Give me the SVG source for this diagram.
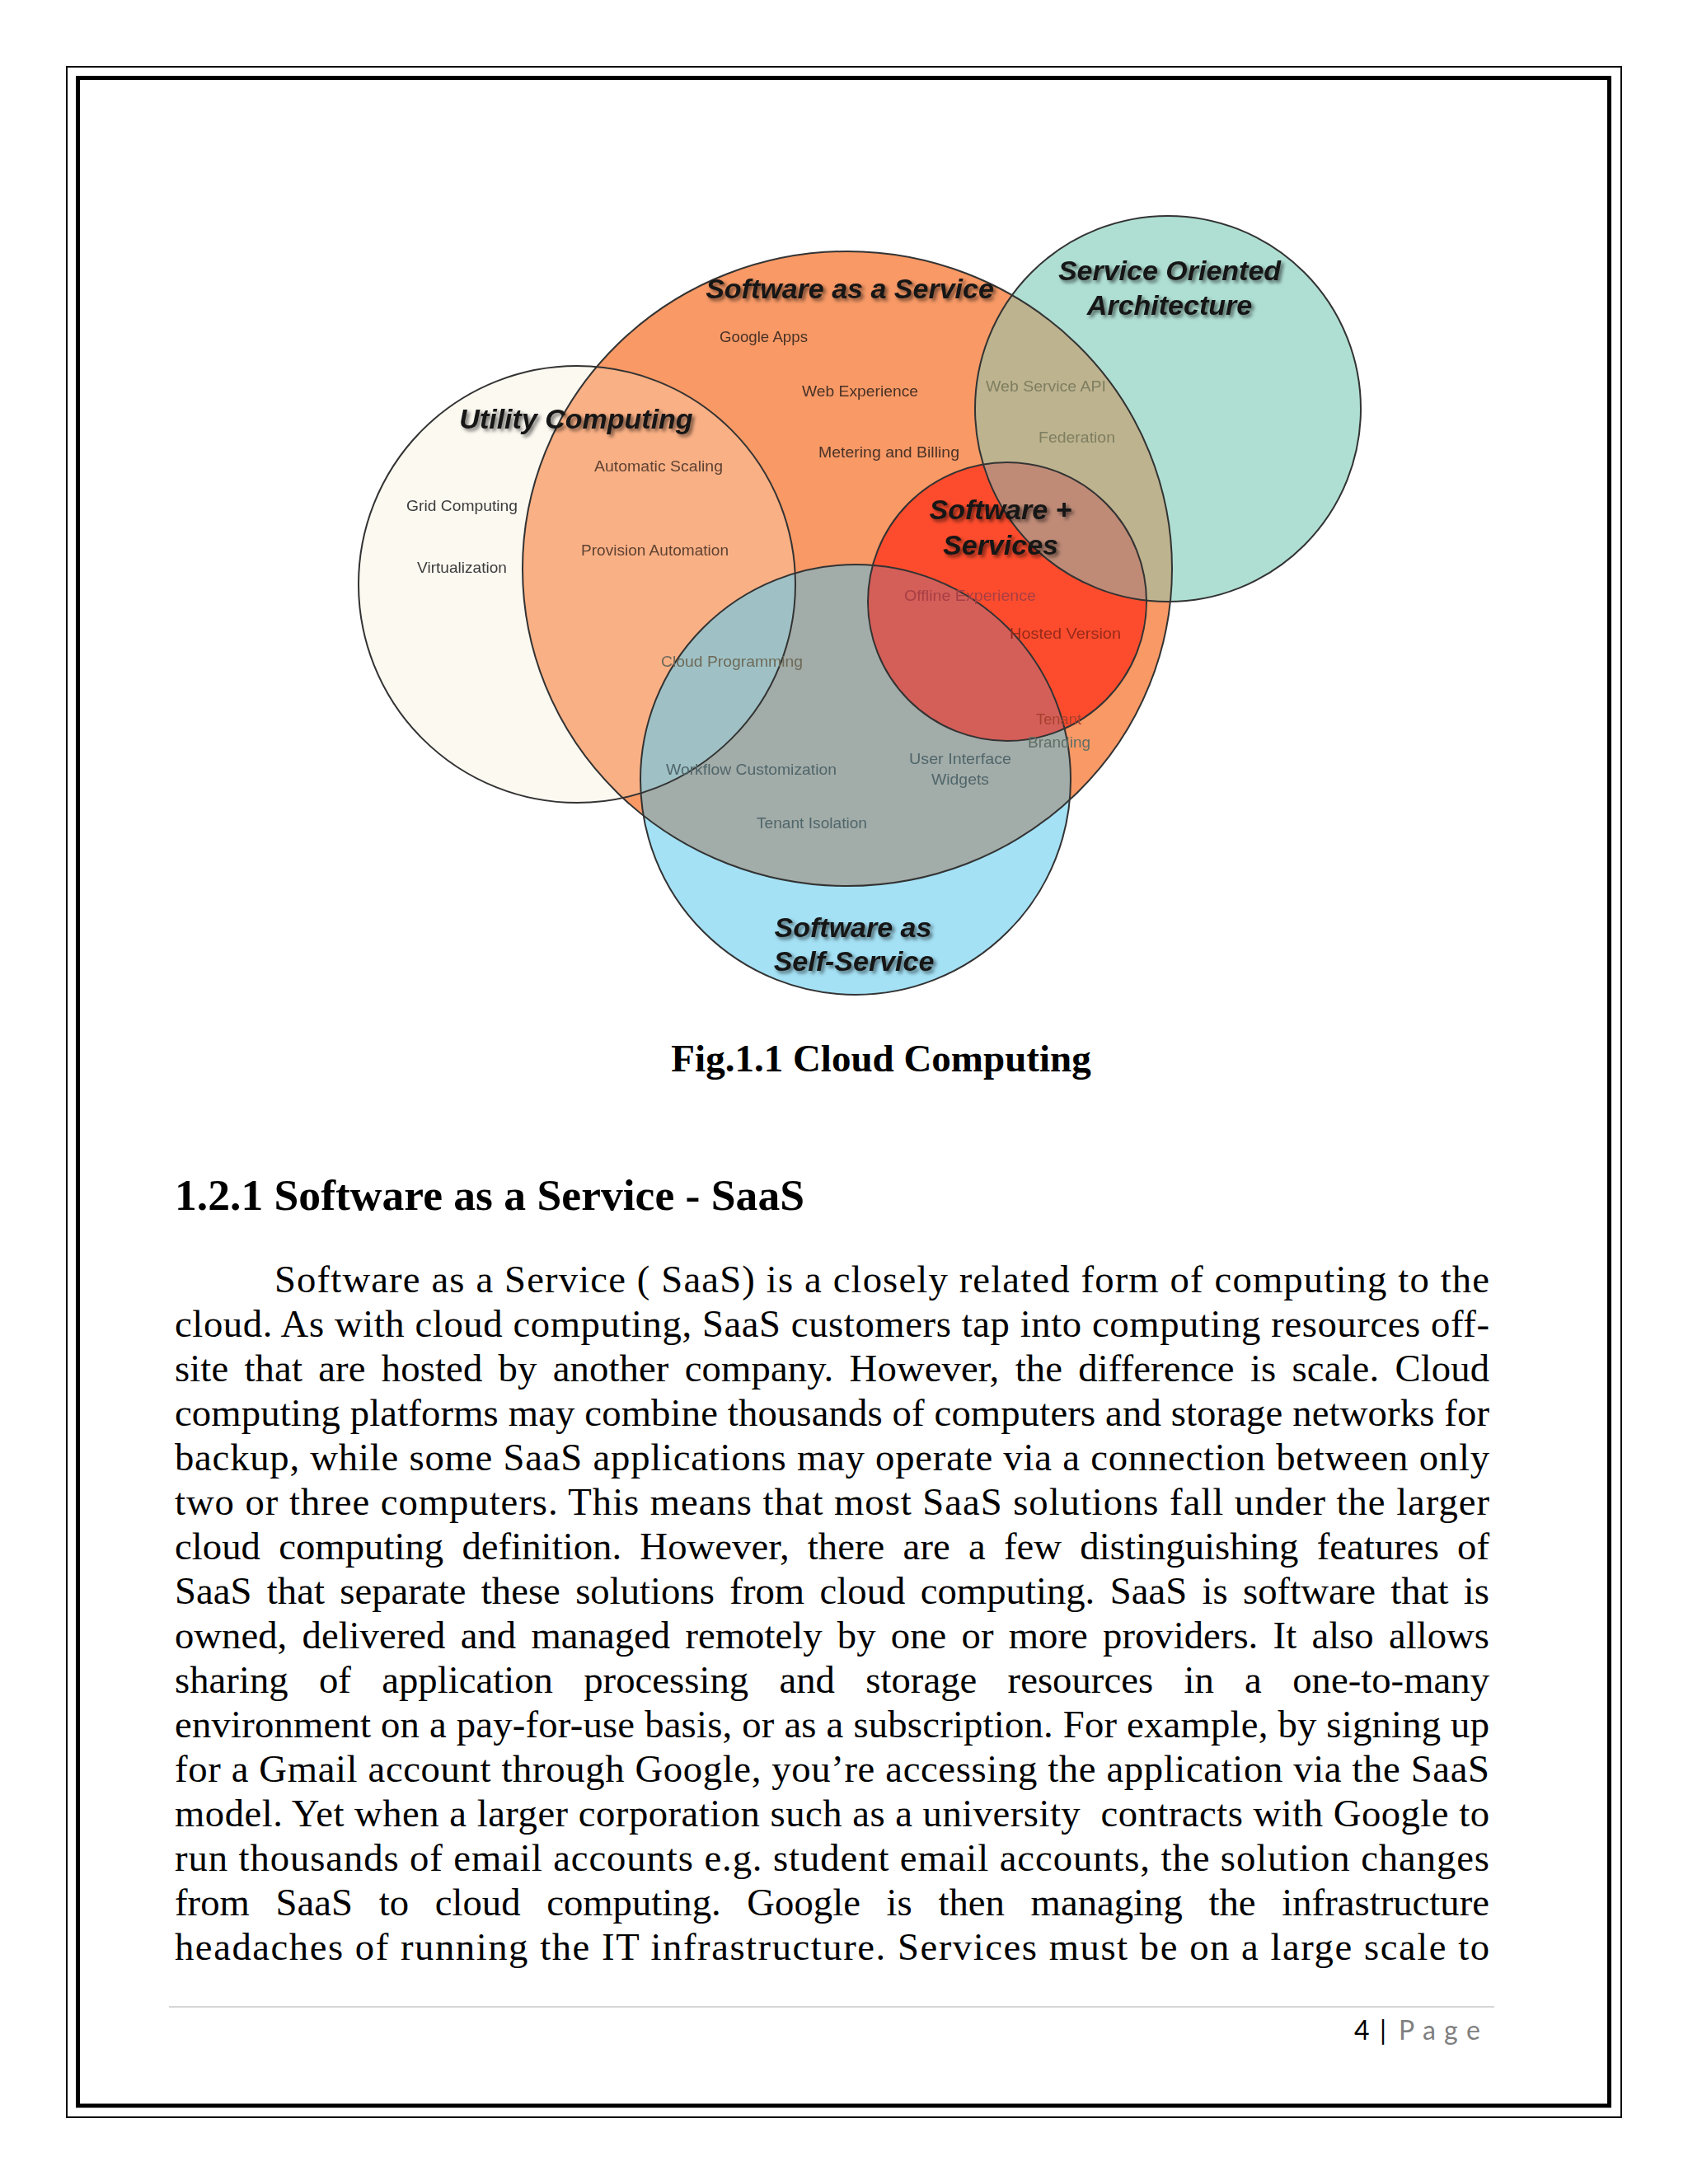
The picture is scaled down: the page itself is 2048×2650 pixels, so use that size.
<svg xmlns="http://www.w3.org/2000/svg" width="2048" height="2650" viewBox="0 0 2048 2650">
<style>
.title{font-family:"Liberation Sans",Arial,sans-serif;font-weight:bold;font-style:italic;font-size:34px;fill:#151515;text-anchor:middle}
.lbl{font-family:"Liberation Sans",Arial,sans-serif;font-size:19px}
.outline{fill:none;stroke:#333;stroke-width:2}
.body{font-family:"Liberation Serif","Times New Roman",serif;font-size:46.7px;fill:#000}
.hd{font-family:"Liberation Serif","Times New Roman",serif;font-weight:bold;fill:#000}
</style>
<defs>
<filter id="shadow" x="-10%" y="-40%" width="125%" height="190%">
<feGaussianBlur in="SourceAlpha" stdDeviation="2.2"/>
<feOffset dx="3" dy="3" result="b"/>
<feFlood flood-color="#000" flood-opacity="0.55"/>
<feComposite in2="b" operator="in"/>
<feMerge><feMergeNode/><feMergeNode in="SourceGraphic"/></feMerge>
</filter>
<filter id="soft" x="-5%" y="-30%" width="110%" height="160%"><feGaussianBlur stdDeviation="0.6"/></filter>
<clipPath id="cUtil"><circle cx="700" cy="709" r="265"/></clipPath>
<clipPath id="cSaas"><ellipse cx="1028" cy="690" rx="394" ry="385"/></clipPath>
<clipPath id="cSoa"><circle cx="1417" cy="496" r="234"/></clipPath>
<clipPath id="cRed"><circle cx="1222" cy="730" r="169"/></clipPath>
<clipPath id="cBlue"><circle cx="1038" cy="946" r="261"/></clipPath>
</defs>
<rect width="2048" height="2650" fill="#fff"/>
<!-- page borders -->
<rect x="81" y="81" width="1886" height="2488" fill="none" stroke="#000" stroke-width="2"/>
<rect x="94.5" y="94.5" width="1858" height="2460.5" fill="none" stroke="#000" stroke-width="5"/>

<g id="venn-shapes">
<g id="shape-utility"><circle cx="700" cy="709" r="265" fill="#fcf9f1"/></g>
<g id="shape-saas"><ellipse cx="1028" cy="690" rx="394" ry="385" fill="#f89966"/></g>
<g id="overlap-saas-utility"><ellipse cx="1028" cy="690" rx="394" ry="385" fill="#fab085" clip-path="url(#cUtil)"/></g>
<g id="shape-soa"><circle cx="1417" cy="496" r="234" fill="#afdfd3"/></g>
<g id="overlap-soa-saas"><circle cx="1417" cy="496" r="234" fill="#bdb38f" clip-path="url(#cSaas)"/></g>
<g id="shape-ss"><circle cx="1222" cy="730" r="169" fill="#fd4c2d"/></g>
<g id="overlap-ss-soa"><circle cx="1417" cy="496" r="234" fill="#bf8b77" clip-path="url(#cRed)"/></g>
<g id="shape-self"><circle cx="1038" cy="946" r="261" fill="#a4e1f5"/></g>
<g id="overlap-self-saas"><ellipse cx="1028" cy="690" rx="394" ry="385" fill="#a2aca8" clip-path="url(#cBlue)"/></g>
<g id="overlap-self-saas-utility" clip-path="url(#cBlue)"><circle cx="700" cy="709" r="265" fill="#9fc1c5" clip-path="url(#cSaas)"/></g>
<g id="overlap-self-ss"><circle cx="1222" cy="730" r="169" fill="#d45f58" clip-path="url(#cBlue)"/></g>
<g id="outlines">
<circle class="outline" cx="700" cy="709" r="265"/>
<ellipse class="outline" cx="1028" cy="690" rx="394" ry="385"/>
<circle class="outline" cx="1417" cy="496" r="234"/>
<circle class="outline" cx="1222" cy="730" r="169"/>
<circle class="outline" cx="1038" cy="946" r="261"/>
</g>
</g>

<g id="connectors"></g>

<g id="node-utility">
<text class="title" x="699" y="520" filter="url(#shadow)">Utility Computing</text>
<g filter="url(#soft)">
<text class="lbl" x="493" y="620" textLength="135" lengthAdjust="spacingAndGlyphs" fill="#3c3c3c">Grid Computing</text>
<text class="lbl" x="506" y="695" textLength="109" lengthAdjust="spacingAndGlyphs" fill="#3c3c3c">Virtualization</text>
<text class="lbl" x="721" y="572" textLength="156" lengthAdjust="spacingAndGlyphs" fill="#5e4232">Automatic Scaling</text>
<text class="lbl" x="705" y="674" textLength="179" lengthAdjust="spacingAndGlyphs" fill="#5e4232">Provision Automation</text>
</g>
</g>

<g id="node-saas">
<text class="title" x="1031" y="362" filter="url(#shadow)">Software as a Service</text>
<g filter="url(#soft)">
<text class="lbl" x="873" y="415" textLength="107" lengthAdjust="spacingAndGlyphs" fill="#4a3226">Google Apps</text>
<text class="lbl" x="973" y="481" textLength="141" lengthAdjust="spacingAndGlyphs" fill="#4a3226">Web Experience</text>
<text class="lbl" x="993" y="555" textLength="171" lengthAdjust="spacingAndGlyphs" fill="#4a3226">Metering and Billing</text>
<text class="lbl" x="802" y="809" textLength="172" lengthAdjust="spacingAndGlyphs" fill="#6e6a58">Cloud Programming</text>
</g>
</g>

<g id="node-soa">
<text class="title" x="1419" y="340" filter="url(#shadow)">Service Oriented</text>
<text class="title" x="1419" y="382" filter="url(#shadow)">Architecture</text>
<g filter="url(#soft)">
<text class="lbl" x="1196" y="475" textLength="146" lengthAdjust="spacingAndGlyphs" fill="#7e7e60">Web Service API</text>
<text class="lbl" x="1260" y="537" textLength="93" lengthAdjust="spacingAndGlyphs" fill="#7e7e60">Federation</text>
</g>
</g>

<g id="node-software-services">
<text class="title" x="1214" y="630" filter="url(#shadow)">Software +</text>
<text class="title" x="1214" y="673" filter="url(#shadow)">Services</text>
<g filter="url(#soft)">
<text class="lbl" x="1097" y="729" textLength="160" lengthAdjust="spacingAndGlyphs" fill="#a83e44">Offline Experience</text>
<text class="lbl" x="1225" y="775" textLength="135" lengthAdjust="spacingAndGlyphs" fill="#962a1a">Hosted Version</text>
<text class="lbl" x="1257" y="879" textLength="55" lengthAdjust="spacingAndGlyphs" fill="#a8402f">Tenant</text>
<text class="lbl" x="1247" y="907" textLength="76" lengthAdjust="spacingAndGlyphs" fill="#5f6e66">Branding</text>
</g>
</g>

<g id="node-self-service">
<text class="title" x="1035" y="1137" filter="url(#shadow)">Software as</text>
<text class="title" x="1036" y="1178" filter="url(#shadow)">Self-Service</text>
<g filter="url(#soft)">
<text class="lbl" x="808" y="940" textLength="207" lengthAdjust="spacingAndGlyphs" fill="#50666b">Workflow Customization</text>
<text class="lbl" x="1103" y="927" textLength="124" lengthAdjust="spacingAndGlyphs" fill="#50666b">User Interface</text>
<text class="lbl" x="1130" y="952" textLength="70" lengthAdjust="spacingAndGlyphs" fill="#50666b">Widgets</text>
<text class="lbl" x="918" y="1005" textLength="134" lengthAdjust="spacingAndGlyphs" fill="#50666b">Tenant Isolation</text>
</g>
</g>

<g id="caption">
<text class="hd" x="1069" y="1300" font-size="47" text-anchor="middle">Fig.1.1 Cloud Computing</text>
</g>

<g id="section">
<text class="hd" x="212" y="1468" font-size="53.5" textLength="764" lengthAdjust="spacingAndGlyphs">1.2.1 Software as a Service - SaaS</text>
</g>

<g id="body-text">
<text class="body" x="333" y="1568" textLength="1474">Software as a Service ( SaaS) is a closely related form of computing to the</text>
<text class="body" x="212" y="1622" textLength="1595">cloud. As with cloud computing, SaaS customers tap into computing resources off-</text>
<text class="body" x="212" y="1676" textLength="1595" word-spacing="7.5">site that are hosted by another company. However, the difference is scale. Cloud</text>
<text class="body" x="212" y="1730" textLength="1595">computing platforms may combine thousands of computers and storage networks for</text>
<text class="body" x="212" y="1784" textLength="1595">backup, while some SaaS applications may operate via a connection between only</text>
<text class="body" x="212" y="1838" textLength="1595">two or three computers. This means that most SaaS solutions fall under the larger</text>
<text class="body" x="212" y="1892" textLength="1595" word-spacing="10.5">cloud computing definition. However, there are a few distinguishing features of</text>
<text class="body" x="212" y="1946" textLength="1595" word-spacing="6.7">SaaS that separate these solutions from cloud computing. SaaS is software that is</text>
<text class="body" x="212" y="2000" textLength="1595" word-spacing="6.6">owned, delivered and managed remotely by one or more providers. It also allows</text>
<text class="body" x="212" y="2054" textLength="1595" word-spacing="25.6">sharing of application processing and storage resources in a one-to-many</text>
<text class="body" x="212" y="2108" textLength="1595">environment on a pay-for-use basis, or as a subscription. For example, by signing up</text>
<text class="body" x="212" y="2162" textLength="1595">for a Gmail account through Google, you’re accessing the application via the SaaS</text>
<text class="body" x="212" y="2216" textLength="1595">model. Yet when a larger corporation such as a university&#160; contracts with Google to</text>
<text class="body" x="212" y="2270" textLength="1595">run thousands of email accounts e.g. student email accounts, the solution changes</text>
<text class="body" x="212" y="2324" textLength="1595" word-spacing="20">from SaaS to cloud computing. Google is then managing the infrastructure</text>
<text class="body" x="212" y="2378" textLength="1595">headaches of running the IT infrastructure. Services must be on a large scale to</text>
</g>

<g id="footer">
<line x1="205" y1="2435" x2="1813" y2="2435" stroke="#d6d6d6" stroke-width="2"/>
<text x="1643" y="2475" font-family="Lato,'Open Sans',sans-serif" font-size="32" fill="#000">4</text>
<text x="1674" y="2475" font-family="Lato,'Open Sans',sans-serif" font-size="32" fill="#000">|</text>
<text x="1697 1726 1752 1779" y="2475" font-family="Lato,'Open Sans',sans-serif" font-size="32" fill="#7f7f7f">Page</text>
</g>
</svg>
